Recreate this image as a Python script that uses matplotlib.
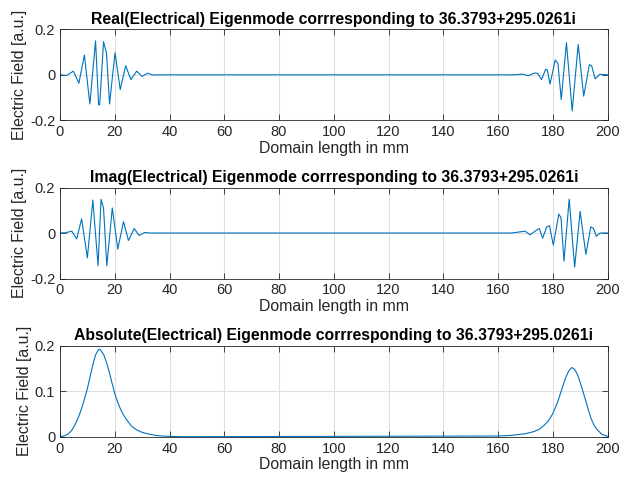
import matplotlib
matplotlib.use("Agg")
import matplotlib.pyplot as plt
from matplotlib.ticker import FuncFormatter

# values
real_x = [0, 2.4, 4.9, 6.9, 8.9, 10.9, 13.0, 14.1, 14.5, 15.9, 17.0, 18.1, 20.1, 22.0, 24.0,
          25.9, 28.0, 30.0, 32.0, 34.0, 36.0,
          166.0, 169.0, 171.0, 173.4, 174.5, 175.9, 177.4, 178.0, 179.0, 180.9, 181.9, 183.1,
          185.0, 187.1, 189.3, 191.3, 193.4, 194.2, 195.5, 197.1, 200.0]
real_y = [0, -0.003, 0.016, -0.037, 0.087, -0.128, 0.149, -0.132, -0.132, 0.146, 0.094, -0.128,
          0.097, -0.065, 0.040, -0.021, 0.016, -0.007, 0.007, -0.001, 0,
          0, 0.003, -0.004, 0.008, 0.006, -0.021, 0.024, 0.022, -0.041, 0.065, 0.050, -0.109,
          0.141, -0.159, 0.133, -0.094, 0.045, 0.040, -0.018, 0.002, 0]

imag_x = [0, 2.0, 4.3, 6.1, 7.9, 10.0, 12.0, 13.9, 15.0, 15.9, 17.1, 19.1, 21.1, 23.2, 25.0,
          27.1, 28.9, 30.9, 33.0,
          165.0, 169.9, 171.7, 173.5, 175.1, 176.3, 177.8, 178.8, 180.2, 182.2, 183.0, 184.1,
          186.0, 188.0, 190.0, 192.1, 193.9, 194.9, 195.9, 197.3, 200.0]
imag_y = [0, 0.001, 0.008, -0.026, 0.062, -0.109, 0.145, -0.144, 0.148, 0.110, -0.144, 0.110,
          -0.071, 0.050, -0.033, 0.020, -0.011, 0.002, 0,
          0, 0.008, -0.008, 0.008, 0.020, -0.023, 0.027, 0.032, -0.053, 0.083, 0.068, -0.124,
          0.149, -0.150, 0.095, -0.094, 0.027, 0.020, -0.014, 0, 0]

abs_x = [0, 1, 2, 3, 4, 5, 6, 7, 8, 9, 10, 11, 12, 13, 14, 14.5, 15, 16, 17, 18, 19, 20, 21, 22,
         23, 24, 26, 28, 30, 33, 36, 40, 45,
         160, 165, 170, 173, 175, 177, 178, 179, 180, 181, 182, 183, 184, 185, 186, 187, 188, 189,
         190, 191, 192, 193, 194, 195, 196, 198, 200]
abs_y = [0, 0.001, 0.003, 0.006, 0.012, 0.021, 0.033, 0.047, 0.064, 0.084, 0.106, 0.132, 0.158,
         0.180, 0.191, 0.192, 0.189, 0.180, 0.163, 0.142, 0.118, 0.095, 0.077, 0.062, 0.050, 0.040,
         0.024, 0.015, 0.0095, 0.005, 0.002, 0.0007, 0,
         0.0015, 0.003, 0.0066, 0.011, 0.016, 0.026, 0.032, 0.040, 0.051, 0.064, 0.080, 0.0985,
         0.117, 0.134, 0.146, 0.152, 0.148, 0.137, 0.120, 0.100, 0.080, 0.059, 0.040, 0.026,
         0.017, 0.005, 0.001]

eig = "36.3793+295.0261i"
titles = ["Real(Electrical) Eigenmode corrresponding to " + eig,
          "Imag(Electrical) Eigenmode corrresponding to " + eig,
          "Absolute(Electrical) Eigenmode corrresponding to " + eig]
series = [(real_x, real_y), (imag_x, imag_y), (abs_x, abs_y)]
ylims = [(-0.2, 0.2), (-0.2, 0.2), (0, 0.2)]
yticks = [[-0.2, 0, 0.2], [-0.2, 0, 0.2], [0, 0.1, 0.2]]
xticks = [0, 20, 40, 60, 80, 100, 120, 140, 160, 180, 200]

plt.rcParams["font.family"] = ["Liberation Sans", "DejaVu Sans"]
plt.rcParams["axes.unicode_minus"] = False

dark = "#262626"
fig = plt.figure(figsize=(6.21, 4.86), dpi=100)
tops = [29.3, 187.5, 345.7]
H = 486.0
for i, (xs, ys) in enumerate(series):
    ax = fig.add_axes([60 / 621, 1 - (tops[i] + 91) / H, 547.5 / 621, 91 / H])
    ax.plot(xs, ys, color="#0072BD", lw=0.8)
    ax.set_xlim(0, 200)
    ax.set_ylim(*ylims[i])
    ax.set_xticks(xticks)
    ax.set_yticks(yticks[i])
    ax.yaxis.set_major_formatter(FuncFormatter(lambda v, p: "%g" % round(v, 3)))
    ax.grid(True, color="#dfdfdf", lw=0.8)
    ax.set_axisbelow(True)
    ax.tick_params(direction="in", top=True, right=True, length=4, width=0.6,
                   colors=dark, labelsize=10.5, labelcolor=dark)
    for s in ax.spines.values():
        s.set_color(dark)
        s.set_linewidth(0.6)
    ax.set_title(titles[i], fontsize=11.3, fontweight="bold", pad=4, color="black")
    ax.set_xlabel("Domain length in mm", fontsize=11.4, color=dark, labelpad=1)
    ax.set_ylabel("Electric Field [a.u.]", fontsize=11.4, color=dark, labelpad=2)

fig.savefig("out.png", dpi=100)
